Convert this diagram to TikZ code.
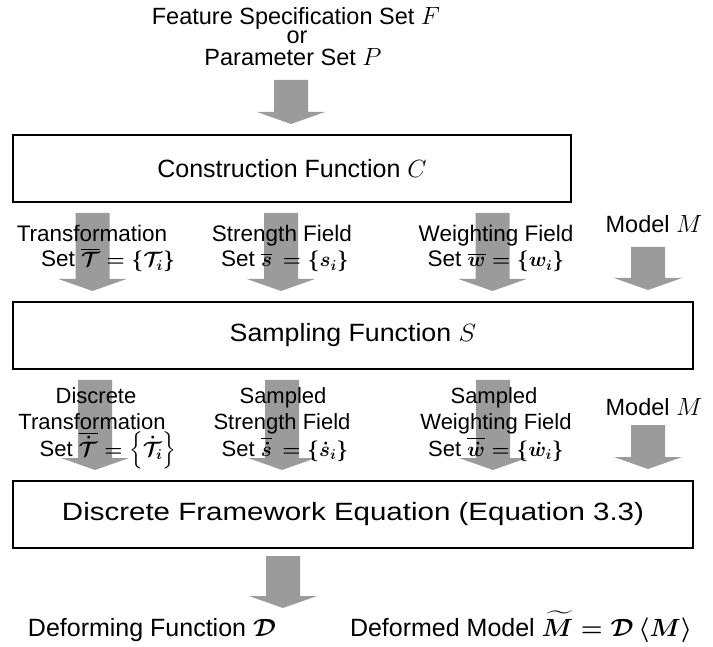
\documentclass[tikz,border=0pt]{standalone}
\usepackage{amsmath}
\usepackage{graphicx}
\usepackage{fontspec}
\setmainfont{Liberation Sans}
\definecolor{arrowgray}{RGB}{155,155,155}
\tikzset{
  pics/barrow/.style={code={\fill[arrowgray] (-17,0) -- (17,0) -- (17,#1-12) -- (34,#1-12) -- (0,#1) -- (-34,#1-12) -- (-17,#1-12) -- cycle;}},
  mainbox/.style={draw, line width=1.4pt, inner sep=0pt, minimum height=67pt, font=\fontsize{25}{28}\selectfont},
  lbl/.style={anchor=base, inner sep=0pt, text height=16pt, text depth=4pt, font=\fontsize{22.5}{25}\selectfont},
  lbltwo/.style={anchor=base, inner sep=0pt, text height=16pt, text depth=4pt, font=\fontsize{22}{25}\selectfont},
  biglbl/.style={anchor=base, inner sep=0pt, text height=17pt, text depth=3pt, font=\fontsize{23.5}{26}\selectfont},
  outlbl/.style={anchor=base, inner sep=0pt, font=\fontsize{25}{28}\selectfont},
}
\begin{document}
\begin{tikzpicture}[x=1pt,y=-1pt]
\useasboundingbox (0,0) rectangle (713,647);
% block arrows (drawn first, text on top)
\pic at (291,80) {barrow=44};
\pic at (92.5,213) {barrow=78};
\pic at (281,213) {barrow=78};
\pic at (492.5,213) {barrow=78};
\pic at (648,247) {barrow=43};
\pic at (95,380) {barrow=90};
\pic at (282,380) {barrow=90};
\pic at (493,380) {barrow=90};
\pic at (648,425) {barrow=44};
\pic at (283,556) {barrow=52};
% top input
\node[biglbl] (f1) at (296,25) {Feature Specification Set $F$};
\node[biglbl, text height=12pt] (f2) at (297,44) {or};
\node[biglbl] (f3) at (293,66) {Parameter Set $P$};
% boxes
\node[mainbox, minimum width=558pt] (C) at (292,168.5) {Construction Function $C$};
\node[mainbox, minimum width=680pt] (S) at (353,335.5) {\scalebox{1.07}[1]{Sampling Function $S$}};
\node[mainbox, minimum width=680pt] (E) at (353,514.5) {\scalebox{1.18}[1]{Discrete Framework Equation (Equation 3.3)}};
% row 1 labels
\node[lbl] (t1) at (92,242) {Transformation};
\node[lbl] (t2) at (108,267) {Set {\boldmath$\overline{\mathcal{T}}=\{\mathcal{T}_i\}$}};
\node[lbl] (s1) at (282,242) {Strength Field};
\node[lbl] (s2) at (285,267) {Set {\boldmath$\overline{s}\,=\{s_i\}$}};
\node[lbl] (w1) at (496,242) {Weighting Field};
\node[lbl] (w2) at (496,267) {Set {\boldmath$\overline{w}=\{w_i\}$}};
\node[biglbl] (m1) at (654,233) {Model $M$};
% row 2 labels
\node[lbltwo] (dt0) at (96,403) {Discrete};
\node[lbltwo] (dt1) at (92,429) {Transformation};
\node[lbltwo] (dt2) at (108,456) {Set {\boldmath$\smash[t]{\overline{\dot{\mathcal{T}}}=\Bigl\{\dot{\mathcal{T}}_i\Bigr\}}$}};
\node[lbltwo] (ds0) at (283,403) {Sampled};
\node[lbltwo] (ds1) at (282,429) {Strength Field};
\node[lbltwo] (ds2) at (285,456) {Set {\boldmath$\smash[t]{\overline{\dot{s}}\,=\{\dot{s}_i\}}$}};
\node[lbltwo] (dw0) at (494,403) {Sampled};
\node[lbltwo] (dw1) at (496,429) {Weighting Field};
\node[lbltwo] (dw2) at (496,456) {Set {\boldmath$\smash[t]{\overline{\dot{w}}=\{\dot{w}_i\}}$}};
\node[biglbl] (m2) at (654,415) {Model $M$};
% outputs
\node[outlbl] (D) at (152,636) {Deforming Function {\boldmath$\mathcal{D}$}};
\node[outlbl] (MD) at (521,636) {Deformed Model {\boldmath$\widetilde{M}=\mathcal{D}\left\langle M\right\rangle$}};
\end{tikzpicture}
\end{document}
